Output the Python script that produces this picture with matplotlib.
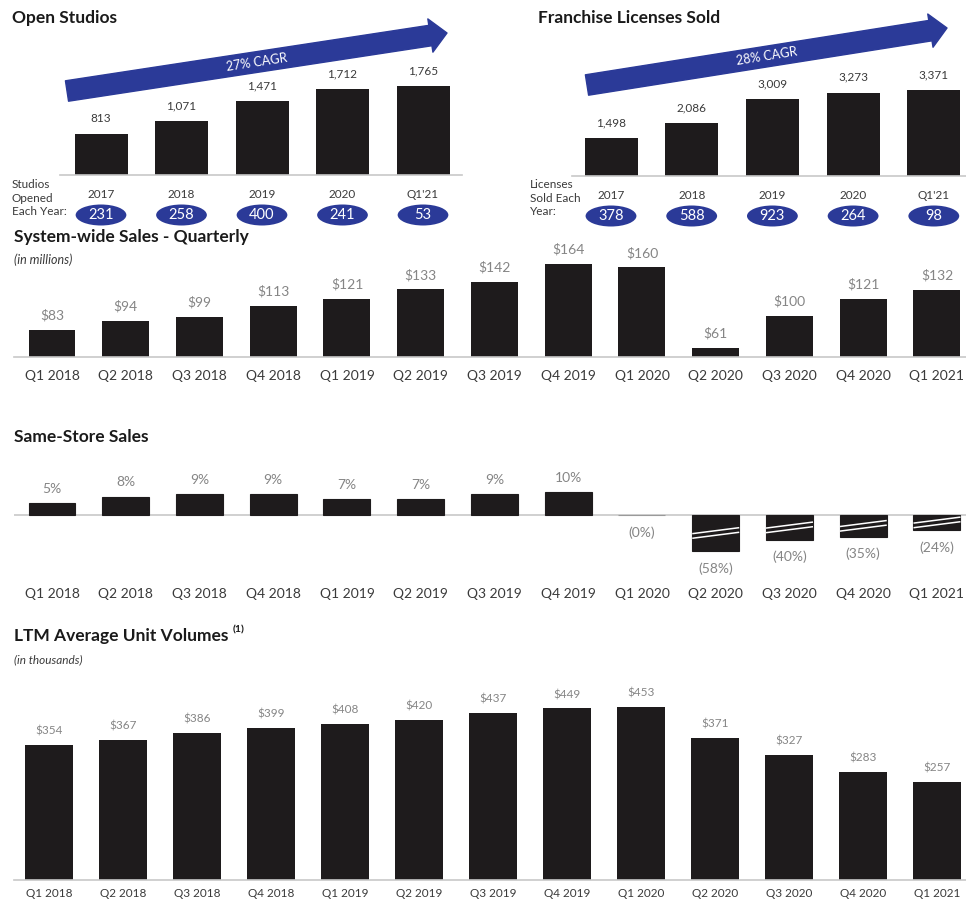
import numpy as np
import matplotlib
matplotlib.use("Agg")
import matplotlib.pyplot as plt
from matplotlib.patches import Ellipse
from matplotlib.ticker import NullLocator
from matplotlib.transforms import blended_transform_factory

plt.rcParams['font.family'] = ['Lato', 'DejaVu Sans']

# ---------------- data ----------------
years = ['2017', '2018', '2019', '2020', "Q1'21"]
studios_total = [813, 1071, 1471, 1712, 1765]
studios_opened = [231, 258, 400, 241, 53]
licenses_total = [1498, 2086, 3009, 3273, 3371]
licenses_sold = [378, 588, 923, 264, 98]

quarters = ['Q1 2018', 'Q2 2018', 'Q3 2018', 'Q4 2018', 'Q1 2019', 'Q2 2019',
            'Q3 2019', 'Q4 2019', 'Q1 2020', 'Q2 2020', 'Q3 2020', 'Q4 2020', 'Q1 2021']
system_sales = [83, 94, 99, 113, 121, 133, 142, 164, 160, 61, 100, 121, 132]
same_store = [5, 8, 9, 9, 7, 7, 9, 10, -0.3, -58, -40, -35, -24]
auv = [354, 367, 386, 399, 408, 420, 437, 449, 453, 371, 327, 283, 257]

# ---------------- style ----------------
W, H = 966, 907
BAR = '#1e1b1c'
BLUE = '#2b3a98'
GRAY = '#858585'
DARK = '#3a3a3a'
AXIS = '#c8c8c8'

fig = plt.figure(figsize=(W / 100, H / 100), dpi=100)


def box(l, t, r, b):
    return [l / W, 1 - b / H, (r - l) / W, (b - t) / H]


def clean(ax):
    for s in ['top', 'right', 'left']:
        ax.spines[s].set_visible(False)
    ax.spines['bottom'].set_color(AXIS)
    ax.spines['bottom'].set_linewidth(1.2)
    ax.set_yticks([])
    ax.tick_params(axis='x', length=0)


def title(x, y, s, size=12.5):
    fig.text(x / W, 1 - y / H, s, fontsize=size, fontweight='bold',
             color='#1a1a1a', va='center', ha='left')


# ---------------- top panels ----------------
def top_panel(l, r, c0, step, base, height_px, totals, counts, side_label,
              side_x, ttl, ttl_x, arrow, cagr):
    ax = fig.add_axes(box(l, base - 100, r, base))
    clean(ax)
    x = np.arange(len(totals))
    ax.bar(x, totals, width=53 / step, color=BAR)
    ax.set_xlim((l - c0) / step, (r - c0) / step)
    ax.set_ylim(0, totals[-1] * 100 / height_px)
    ax.set_xticks(x)
    ax.set_xticklabels(years, fontsize=8.5, color=DARK)
    ax.tick_params(axis='x', pad=10)
    for i, v in enumerate(totals):
        ax.annotate(f"{v:,}", (i, v), xytext=(0, 7), textcoords='offset points',
                    ha='center', va='bottom', fontsize=8.5, color=DARK)
    tr = blended_transform_factory(ax.transData, ax.transAxes)
    for i, c in enumerate(counts):
        e = Ellipse((i, -0.40), width=0.63, height=0.21, transform=tr,
                    facecolor=BLUE, edgecolor='none', clip_on=False)
        ax.add_patch(e)
        ax.text(i, -0.40, str(c), transform=tr, ha='center', va='center',
                fontsize=10.5, color='white', clip_on=False)
    fig.text(side_x / W, 1 - 179 / H, side_label, fontsize=8.5, color=DARK,
             va='top', ha='left', linespacing=1.3)
    title(ttl_x, 18, ttl)
    (x1, y1), (x2, y2) = arrow
    ax.annotate('', xy=(x2, H - y2), xycoords='figure pixels',
                xytext=(x1, H - y1), textcoords='figure pixels',
                arrowprops=dict(arrowstyle='simple,head_length=1.1,head_width=2.2,tail_width=1.35',
                                mutation_scale=11, fc=BLUE, ec=BLUE, shrinkA=0, shrinkB=0))
    ang = np.degrees(np.arctan2(y1 - y2, x2 - x1))
    mx = x1 + (x2 - x1) * 0.5
    my = y1 + (y2 - y1) * 0.5
    fig.text(mx / W, 1 - my / H, cagr, rotation=ang, rotation_mode='anchor',
             ha='center', va='center', fontsize=9, color='white')


top_panel(60, 462, 101, 80.5, 175, 89, studios_total, studios_opened,
          "Studios\nOpened\nEach Year:", 12, "Open Studios", 12,
          ((67, 91), (447, 33)), "27% CAGR")
top_panel(572, 966, 611, 80.7, 176, 86, licenses_total, licenses_sold,
          "Licenses\nSold Each\nYear:", 530, "Franchise Licenses Sold", 538,
          ((587, 85), (947, 28)), "28% CAGR")

# ---------------- quarterly panels ----------------
xq = np.arange(len(quarters))

# System-wide sales
c0, step = 52, 73.75
ax = fig.add_axes(box(14, 247, 966, 357))
clean(ax)
ax.bar(xq, system_sales, width=47 / step, color=BAR)
ax.set_xlim((14 - c0) / step, (966 - c0) / step)
ax.set_ylim(50, 50 + 110 / 0.815)
ax.set_xticks(xq)
ax.set_xticklabels(quarters, fontsize=10, color=DARK)
ax.tick_params(axis='x', pad=9)
for i, v in enumerate(system_sales):
    ax.annotate(f"${v}", (i, v), xytext=(0, 6), textcoords='offset points',
                ha='center', va='bottom', fontsize=10, color=GRAY)
title(14, 237, "System-wide Sales - Quarterly")
fig.text(14 / W, 1 - 260 / H, "(in millions)", fontsize=9, style='italic',
         color=DARK, va='center')

# Same-store sales (negative side compressed, shown as broken bars)
K = 0.27


def fwd(y):
    y = np.asarray(y, dtype=float)
    return np.where(y < 0, y * K, y)


def inv(y):
    y = np.asarray(y, dtype=float)
    return np.where(y < 0, y / K, y)


ax = fig.add_axes(box(14, 445, 966, 560))
for s in ['top', 'right', 'left', 'bottom']:
    ax.spines[s].set_visible(False)
ax.set_yscale('function', functions=(fwd, inv))
ax.yaxis.set_major_locator(NullLocator())
ax.yaxis.set_minor_locator(NullLocator())
ax.tick_params(axis='y', which='both', left=False, labelleft=False)
ax.tick_params(axis='x', length=0)
ax.bar(xq, same_store, width=47 / step, color=BAR,
       edgecolor=[BAR if v < -1 or v > 0 else '#9a9a9a' for v in same_store],
       linewidth=0.8)
ax.axhline(0, color=AXIS, lw=1.2, zorder=0.5)
ax.set_xlim((14 - c0) / step, (966 - c0) / step)
ax.set_ylim(-72.5, 30.4)
ax.set_xticks(xq)
ax.set_xticklabels(quarters, fontsize=10, color=DARK)
ax.tick_params(axis='x', pad=20)
hw = 0.5 * 47 / step
px_per_unit = 2.3 * K
for i, v in enumerate(same_store):
    if v > 0:
        ax.annotate(f"{v:.0f}%", (i, v), xytext=(0, 6), textcoords='offset points',
                    ha='center', va='bottom', fontsize=10, color=GRAY)
    else:
        ax.annotate(f"({abs(v):.0f}%)", (i, v), xytext=(0, -8), textcoords='offset points',
                    ha='center', va='top', fontsize=10, color=GRAY)
        if v < -1:
            mid = v * 0.5
            d = 3.0 / px_per_unit
            for off in (-2.3 / px_per_unit, 2.3 / px_per_unit):
                ax.plot([i - hw, i + hw], [mid - d + off, mid + d + off],
                        color='white', lw=1.1, solid_capstyle='butt', zorder=3)
title(14, 437, "Same-Store Sales")

# LTM AUV
c0, step = 49, 74
ax = fig.add_axes(box(14, 680, 966, 880))
clean(ax)
ax.bar(xq, auv, width=48 / step, color=BAR)
ax.set_xlim((14 - c0) / step, (966 - c0) / step)
ax.set_ylim(0, 200 / 0.382)
ax.set_xticks(xq)
ax.set_xticklabels(quarters, fontsize=8.5, color=DARK)
ax.tick_params(axis='x', pad=6)
for i, v in enumerate(auv):
    ax.annotate(f"${v}", (i, v), xytext=(0, 6), textcoords='offset points',
                ha='center', va='bottom', fontsize=8.5, color=GRAY)
t = fig.text(14 / W, 1 - 636 / H, "LTM Average Unit Volumes", fontsize=12.5,
             fontweight='bold', color='#1a1a1a', va='center')
fig.canvas.draw()
bb = t.get_window_extent()
fig.text((bb.x1 + 4) / W, 1 - 630 / H, "(1)", fontsize=7.5, fontweight='bold',
         color='#1a1a1a', va='center')
fig.text(14 / W, 1 - 660 / H, "(in thousands)", fontsize=8.5, style='italic',
         color=DARK, va='center')

fig.savefig("out.png", dpi=100)
